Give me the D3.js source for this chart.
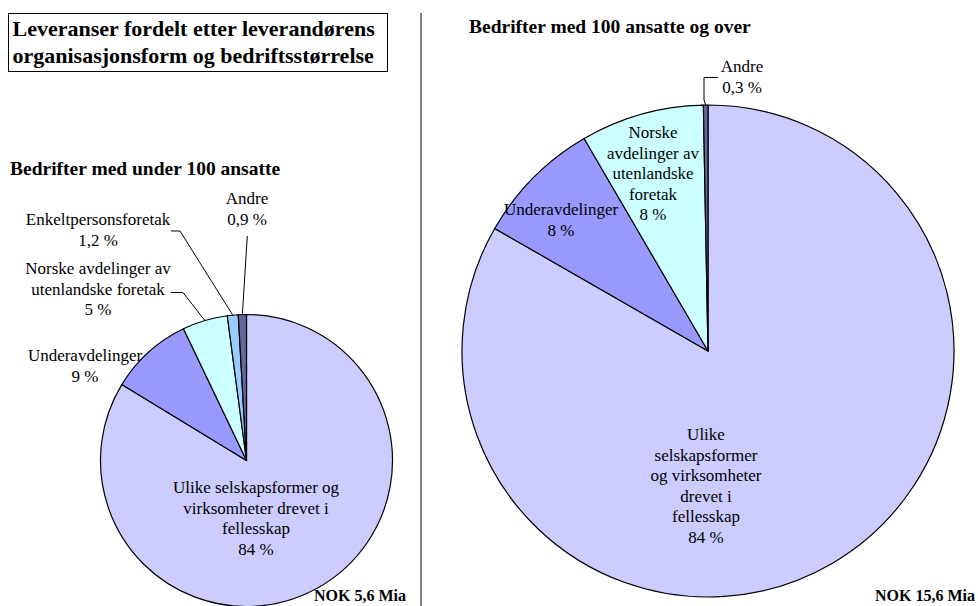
<!DOCTYPE html>
<html>
<head>
<meta charset="utf-8">
<script src="https://cdn.jsdelivr.net/npm/d3@7"></script>
<style>
  body { margin: 0; background: #fff; }
  text { font-family: "Liberation Serif", "Times New Roman", serif; fill: #000; }
</style>
</head>
<body>
<div id="chart"></div>
<script>
// data
var categories = ["Ulike selskapsformer og virksomheter drevet i fellesskap", "Underavdelinger",
    "Norske avdelinger av utenlandske foretak", "Enkeltpersonsforetak", "Andre"];
var smallValues = [83.7, 9.2, 5.0, 1.2, 0.9];   // under 100 ansatte
var smallPct = ["84 %", "9 %", "5 %", "1,2 %", "0,9 %"];
var largeCategories = ["Ulike selskapsformer og virksomheter drevet i fellesskap", "Underavdelinger",
    "Norske avdelinger av utenlandske foretak", "Andre"];
var largeValues = [83.3, 8.3, 8.1, 0.3];        // 100 ansatte og over
var largePct = ["84 %", "8 %", "8 %", "0,3 %"];
var colors = ["#ccccff", "#9999ff", "#ccffff", "#99ccff", "#666699"];
var largeColors = ["#ccccff", "#9999ff", "#ccffff", "#666699"];

var width = 978, height = 606;

var svg = d3.select("#chart")
    .append("svg")
    .attr("width", width)
    .attr("height", height);

// title box
svg.append("rect")
    .attr("x", 8.5).attr("y", 13.5)
    .attr("width", 379).attr("height", 58)
    .attr("fill", "none").attr("stroke", "#000").attr("stroke-width", 1);
svg.append("text").attr("x", 12.5).attr("y", 36)
    .attr("font-size", 22).attr("font-weight", "bold")
    .text("Leveranser fordelt etter leverandørens");
svg.append("text").attr("x", 12.5).attr("y", 63)
    .attr("font-size", 22).attr("font-weight", "bold")
    .text("organisasjonsform og bedriftsstørrelse");

// divider
svg.append("line")
    .attr("x1", 421).attr("x2", 421).attr("y1", 13).attr("y2", height)
    .attr("stroke", "#000").attr("stroke-width", 1);

function drawPie(cfg) {
    var pie = d3.pie().sort(null).value(function (d) { return d; });
    var arcs = pie(cfg.values);
    var arc = d3.arc().innerRadius(0).outerRadius(cfg.r);

    var g = svg.append("g")
        .attr("transform", "translate(" + cfg.cx + "," + cfg.cy + ")");

    g.selectAll("path")
        .data(arcs)
        .enter().append("path")
        .attr("d", arc)
        .attr("fill", function (d, i) { return cfg.colors[i]; })
        .attr("stroke", "#000")
        .attr("stroke-width", 1.2)
        .attr("stroke-linejoin", "round");

    // leader lines: from label to the middle of the slice edge
    cfg.leaders.forEach(function (ld) {
        var a = arcs[ld.i];
        var mid = (a.startAngle + a.endAngle) / 2;
        var end = [cfg.r * Math.sin(mid), -cfg.r * Math.cos(mid)];
        var pts = ld.pts.map(function (p) { return [p[0] - cfg.cx, p[1] - cfg.cy]; });
        pts.push(end);
        g.append("path")
            .attr("d", d3.line()(pts))
            .attr("fill", "none")
            .attr("stroke", "#000")
            .attr("stroke-width", 1);
    });

    // labels
    cfg.labels.forEach(function (lb) {
        var lines = lb.lines.concat([cfg.pct[lb.i]]);
        var t = svg.append("text")
            .attr("text-anchor", "middle")
            .attr("font-size", 17);
        lines.forEach(function (s, k) {
            t.append("tspan")
                .attr("x", lb.x)
                .attr("y", lb.y + k * cfg.lh)
                .text(s);
        });
    });

    svg.append("text")
        .attr("x", cfg.sx).attr("y", cfg.sy)
        .attr("font-size", 19.5).attr("font-weight", "bold")
        .text(cfg.subtitle);

    svg.append("text")
        .attr("x", cfg.nx).attr("y", cfg.ny)
        .attr("text-anchor", "end")
        .attr("font-size", 16).attr("font-weight", "bold")
        .text(cfg.total);
}

drawPie({
    values: smallValues, pct: smallPct, colors: colors,
    cx: 246.5, cy: 460.5, r: 146, lh: 20.5,
    subtitle: "Bedrifter med under 100 ansatte", sx: 10, sy: 175,
    total: "NOK 5,6 Mia", nx: 406, ny: 601,
    labels: [
        { i: 0, x: 256, y: 493, lines: ["Ulike selskapsformer og", "virksomheter drevet i", "fellesskap"] },
        { i: 1, x: 85, y: 361, lines: ["Underavdelinger"] },
        { i: 2, x: 98, y: 274, lines: ["Norske avdelinger av", "utenlandske foretak"] },
        { i: 3, x: 98, y: 225, lines: ["Enkeltpersonsforetak"] },
        { i: 4, x: 247, y: 204, lines: ["Andre"] }
    ],
    leaders: [
        { i: 2, pts: [[171, 292.5], [183, 292.5]] },
        { i: 3, pts: [[171, 231], [180, 231]] },
        { i: 4, pts: [[247.3, 236]] }
    ]
});

drawPie({
    values: largeValues, pct: largePct, colors: largeColors,
    cx: 708, cy: 351, r: 246, lh: 20.5,
    subtitle: "Bedrifter med 100 ansatte og over", sx: 469, sy: 33,
    total: "NOK 15,6 Mia", nx: 975, ny: 601,
    labels: [
        { i: 0, x: 706, y: 440, lines: ["Ulike", "selskapsformer", "og virksomheter", "drevet i", "fellesskap"] },
        { i: 1, x: 561, y: 215, lines: ["Underavdelinger"] },
        { i: 2, x: 653, y: 138, lines: ["Norske", "avdelinger av", "utenlandske", "foretak"] },
        { i: 3, x: 742, y: 72, lines: ["Andre"] }
    ],
    leaders: [
        { i: 3, pts: [[718, 77.5], [704, 77.5], [704, 100]] }
    ]
});
</script>
</body>
</html>
